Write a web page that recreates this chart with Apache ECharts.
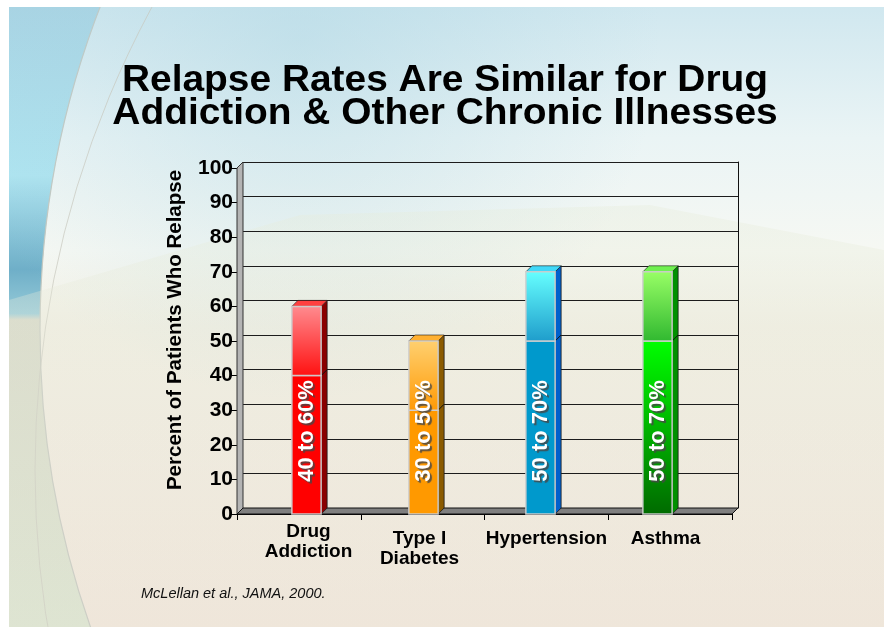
<!DOCTYPE html>
<html>
<head>
<meta charset="utf-8">
<script src="https://cdn.jsdelivr.net/npm/echarts@6/dist/echarts.min.js"></script>
<style>html,body{margin:0;padding:0;background:#fff;}#c{width:884px;height:627px;}</style>
</head>
<body>
<div id="c"></div>
<script>
// ---- data ----
const categories = ['Drug\nAddiction', 'Type I\nDiabetes', 'Hypertension', 'Asthma'];
const lowValues  = [40, 30, 50, 50];
const highValues = [60, 50, 70, 70];
const yTicks = [0, 10, 20, 30, 40, 50, 60, 70, 80, 90, 100];
const titleLines = ['Relapse Rates Are Similar for Drug', 'Addiction & Other Chronic Illnesses'];
const yAxisTitle = 'Percent of Patients Who Relapse';
const sourceNote = 'McLellan et al., JAMA, 2000.';

// ---- styles ----
const palette = [
  { low: ['#FF0000', '#FF0000'], high: ['#FF8C90', '#FF1010'], side: '#8A0000', top: '#FF4040' },
  { low: ['#FF9900', '#FF9900'], high: ['#FFD070', '#FF9A05'], side: '#8A5A00', top: '#FFB030' },
  { low: ['#0099CC', '#0099CC'], high: ['#66FFFF', '#1E9CCB'], side: '#0060CC', top: '#40D8F8' },
  { low: ['#00FF00', '#006A00'], high: ['#99FF66', '#30B830'], side: '#009000', top: '#70F050' }
];
const labelPadding = [[0, 0, 0, 4], [7, 8, 0, 0], [7, 0, 0, 12], [7, 0, 0, 16]];
const FONT = '"Liberation Sans", Arial, sans-serif';
const DX = 6, DY = -6;          // 3D depth offset (px)
const LABEL_AT = 24;            // value at which the range text is centred

const chart = echarts.init(document.getElementById('c'), null, { renderer: 'canvas' });

function vgrad(c1, c2) {
  return { type: 'linear', x: 0, y: 0, x2: 0, y2: 1, colorStops: [{ offset: 0, color: c1 }, { offset: 1, color: c2 }] };
}

function renderBar(params, api) {
  const i = api.value(0), lo = api.value(1), hi = api.value(2);
  const p0 = api.coord([i, 0]), pl = api.coord([i, lo]), ph = api.coord([i, hi]);
  const w = api.size([1, 0])[0] * 0.25;
  const x = p0[0] - w / 2;
  const pal = palette[i];
  const y0 = p0[1], yl = pl[1], yh = ph[1];
  const edge = 'rgba(205,205,205,0.95)';
  return {
    type: 'group',
    children: [
      { type: 'polygon', shape: { points: [[x + w, yh], [x + w + DX, yh + DY], [x + w + DX, y0 + DY], [x + w, y0]] },
        style: { fill: pal.side, stroke: '#1a1a1a', lineWidth: 0.8 } },
      { type: 'line', shape: { x1: x + w, y1: yl, x2: x + w + DX, y2: yl + DY }, style: { stroke: '#111', lineWidth: 1 } },
      { type: 'polygon', shape: { points: [[x, yh], [x + DX, yh + DY], [x + w + DX, yh + DY], [x + w, yh]] },
        style: { fill: pal.top, stroke: '#1a1a1a', lineWidth: 0.6 } },
      { type: 'rect', shape: { x: x, y: yl, width: w, height: y0 - yl },
        style: { fill: vgrad(pal.low[0], pal.low[1]), stroke: edge, lineWidth: 1.5 } },
      { type: 'rect', shape: { x: x, y: yh, width: w, height: yl - yh },
        style: { fill: vgrad(pal.high[0], pal.high[1]), stroke: edge, lineWidth: 1.5 } },
      { type: 'text', x: p0[0], y: api.coord([i, LABEL_AT])[1], rotation: Math.PI / 2,
        style: { text: lo + ' to ' + hi + '%', fill: '#fff', font: 'bold 22px ' + FONT,
          align: 'center', verticalAlign: 'middle',
          textShadowColor: 'rgba(70,70,70,0.85)', textShadowOffsetX: 2, textShadowOffsetY: 2, textShadowBlur: 1 } }
    ]
  };
}

const barData = categories.map((c, i) => [i, lowValues[i], highValues[i]]);

const bgGradient = { type: 'linear', x: 0, y: 0, x2: 0, y2: 627, global: true, colorStops: [
  { offset: 0, color: '#CFE7EF' }, { offset: 0.22, color: '#EAF4F5' }, { offset: 0.40, color: '#F6F8F3' },
  { offset: 0.52, color: '#F1EFE4' }, { offset: 1, color: '#EFE6DA' } ] };
const stripGradient = { type: 'linear', x: 0, y: 0, x2: 0, y2: 627, global: true, colorStops: [
  { offset: 0, color: '#A8D3E3' }, { offset: 0.28, color: '#AEE4F0' }, { offset: 0.43, color: '#6FAFC8' },
  { offset: 0.50, color: '#95CAD8' }, { offset: 0.51, color: '#D6D8C8' }, { offset: 1, color: '#DAE4D0' } ] };

const option = {
  backgroundColor: '#ffffff',
  animation: false,
  graphic: [
    { type: 'rect', z: -20, shape: { x: 9, y: 7, width: 875, height: 620 }, style: { fill: stripGradient } },
    { type: 'circle', z: -19, shape: { cx: 939, cy: 330, r: 899 }, style: { fill: bgGradient, stroke: '#C4C8C0', lineWidth: 1.2 } },
    { type: 'circle', z: -18, shape: { cx: 300, cy: 40, r: 360 }, style: { fill: { type: 'radial', x: 0.5, y: 0.5, r: 0.5, colorStops: [
      { offset: 0, color: 'rgba(170,212,226,0.45)' }, { offset: 1, color: 'rgba(170,212,226,0)' } ] } } },
    { type: 'circle', z: -18, shape: { cx: 1010, cy: 470, r: 975 }, style: { fill: 'none', stroke: 'rgba(200,200,190,0.7)', lineWidth: 1 } },
    { type: 'polygon', z: -17, shape: { points: [[9, 300], [300, 215], [650, 205], [884, 250], [884, 627], [9, 627]] },
      style: { fill: { type: 'linear', x: 0, y: 0, x2: 0, y2: 1, colorStops: [
        { offset: 0, color: 'rgba(230,236,218,0.35)' }, { offset: 1, color: 'rgba(238,230,218,0.2)' } ] } } },
    { type: 'rect', z: -16, shape: { x: 0, y: 0, width: 884, height: 7 }, style: { fill: '#fff' } },
    { type: 'rect', z: -16, shape: { x: 0, y: 0, width: 9, height: 627 }, style: { fill: '#fff' } },
    // title
    { type: 'text', z: 10, x: 445, y: 81, scaleX: 1.08, style: { text: titleLines[0], font: 'bold 36px ' + FONT, fill: '#000', align: 'center', verticalAlign: 'middle' } },
    { type: 'text', z: 10, x: 445, y: 114, scaleX: 1.08, style: { text: titleLines[1], font: 'bold 36px ' + FONT, fill: '#000', align: 'center', verticalAlign: 'middle' } },
    // y axis title
    { type: 'text', z: 10, x: 175, y: 330, rotation: Math.PI / 2, style: { text: yAxisTitle, font: 'bold 20.5px ' + FONT, fill: '#000', align: 'center', verticalAlign: 'middle' } },
    // source
    { type: 'text', z: 10, x: 141, y: 594, style: { text: sourceNote, font: 'italic 14.5px ' + FONT, fill: '#111', align: 'left', verticalAlign: 'middle' } },
    // 3D walls: left side wall and floor
    { type: 'polygon', z: 1, shape: { points: [[237, 168], [243, 162], [243, 508], [237, 514]] }, style: { fill: '#B4B4B4', stroke: '#333', lineWidth: 1 } },
    { type: 'polygon', z: 1, shape: { points: [[237, 514], [243, 508], [738, 508], [732, 514]] }, style: { fill: '#7F7F7F', stroke: '#111', lineWidth: 1 } }
  ],
  grid: [
    { left: 243, top: 162, width: 495, height: 346, show: false },
    { left: 237, top: 168, width: 495, height: 346, show: false },
    { left: 248, top: 168, width: 468, height: 346, show: false }
  ],
  xAxis: [
    { gridIndex: 0, type: 'category', data: categories, show: false },
    { gridIndex: 1, type: 'category', data: categories, boundaryGap: true,
      axisLine: { show: true, lineStyle: { color: '#000', width: 1 } },
      axisTick: { show: true, length: 6, lineStyle: { color: '#000' } }, axisLabel: { show: false } },
    { gridIndex: 2, type: 'category', data: categories.map((c, i) => ({ value: c, textStyle: { padding: labelPadding[i] } })),
      axisLine: { show: false }, axisTick: { show: false },
      axisLabel: { interval: 0, hideOverlap: false, margin: 8, color: '#000', fontFamily: FONT, fontWeight: 'bold', fontSize: 19, lineHeight: 20 } }
  ],
  yAxis: [
    { gridIndex: 0, type: 'value', min: 0, max: 100, interval: 10,
      axisLine: { show: false }, axisTick: { show: false }, axisLabel: { show: false },
      splitLine: { show: true, lineStyle: { color: '#1c1c1c', width: 1 } } },
    { gridIndex: 0, type: 'value', position: 'right', min: 0, max: 100, interval: 10,
      axisLine: { show: true, lineStyle: { color: '#111', width: 1 } }, axisTick: { show: false }, axisLabel: { show: false }, splitLine: { show: false } },
    { gridIndex: 1, type: 'value', min: 0, max: 100, interval: 10,
      axisLine: { show: true, lineStyle: { color: '#000', width: 1 } },
      axisTick: { show: true, length: 6, lineStyle: { color: '#000' } },
      axisLabel: { margin: 4, color: '#000', fontFamily: FONT, fontWeight: 'bold', fontSize: 21,
        formatter: v => (yTicks.indexOf(v) >= 0 ? String(v) : '') },
      splitLine: { show: false } },
    { gridIndex: 2, type: 'value', min: 0, max: 100, show: false }
  ],
  series: [
    { type: 'custom', xAxisIndex: 2, yAxisIndex: 3, z: 5, renderItem: renderBar, data: barData, clip: false }
  ]
};
chart.setOption(option);
</script>
</body>
</html>
